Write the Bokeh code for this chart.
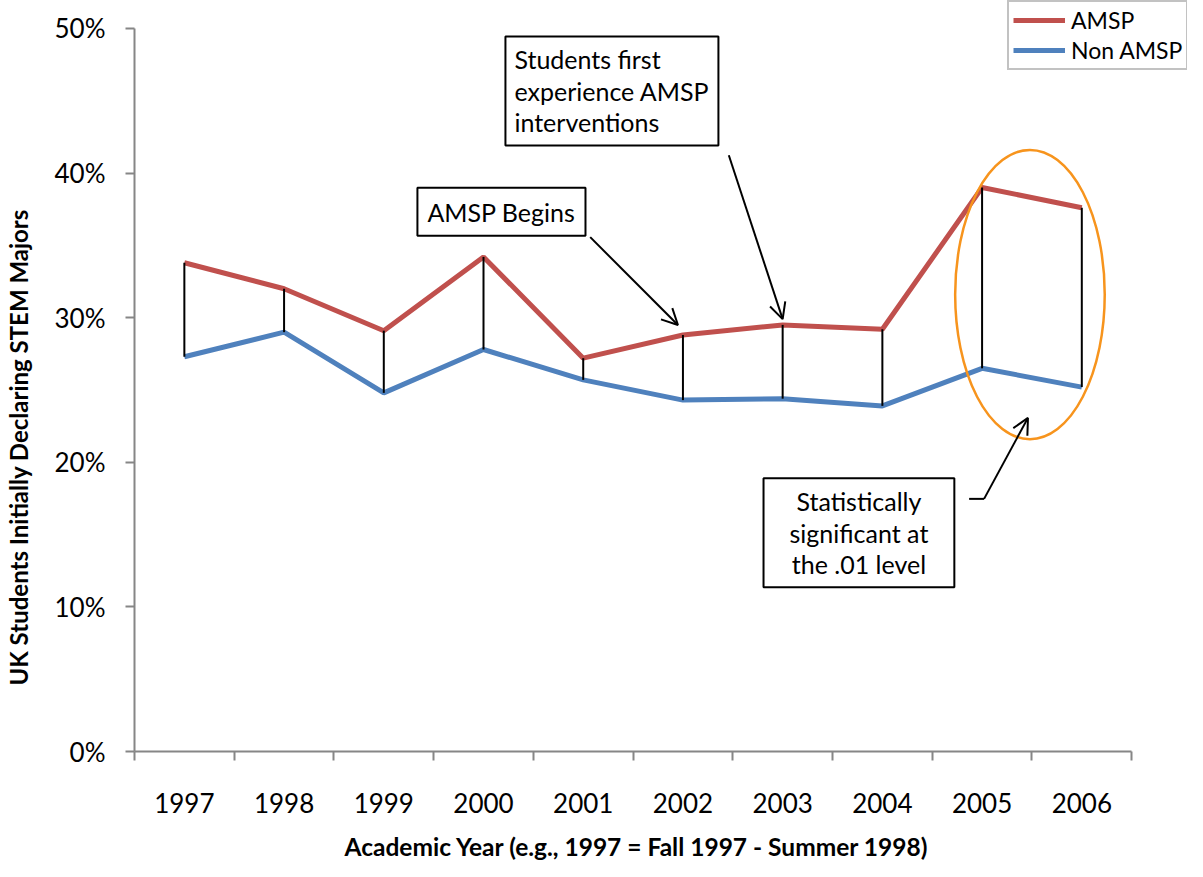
from bokeh.plotting import figure
from bokeh.models import (FixedTicker, Legend, LegendItem, Label, Arrow, OpenHead,
                          CustomJSTickFormatter, Range1d, Title)
from bokeh.embed import file_html
from bokeh.resources import INLINE

years = ["1997", "1998", "1999", "2000", "2001", "2002", "2003", "2004", "2005", "2006"]
amsp = [33.8, 32.0, 29.1, 34.2, 27.2, 28.8, 29.5, 29.2, 39.0, 37.6]
non_amsp = [27.3, 29.0, 24.8, 27.8, 25.7, 24.3, 24.4, 23.9, 26.5, 25.2]
y_ticks = [0, 10, 20, 30, 40, 50]

xs = list(range(1, len(years) + 1))
FONT = "Lato"
AX = "#868686"

W, H = 1187, 861
LEFT, BOTTOM = 131, 109
PX_X = 100.0
PX_Y = 14.48
x_end = 0.5 + (W - LEFT) / PX_X
y_end = (H - BOTTOM) / PX_Y

p = figure(width=W, height=H, output_backend="svg", toolbar_location=None,
           x_range=Range1d(0.5, x_end), y_range=Range1d(0, y_end),
           min_border_left=LEFT, min_border_right=0, min_border_top=0, min_border_bottom=BOTTOM)
p.outline_line_color = None
p.xgrid.visible = False
p.ygrid.visible = False

# x axis
p.xaxis.bounds = (0.5, 10.5)
p.xaxis.ticker = FixedTicker(ticks=xs, minor_ticks=[i + 0.5 for i in range(0, len(years) + 1)])
p.xaxis.major_label_overrides = {x: y for x, y in zip(xs, years)}
p.xaxis.major_tick_line_color = None
p.xaxis.major_tick_out = 0
p.xaxis.major_tick_in = 0
p.xaxis.minor_tick_line_color = AX
p.xaxis.minor_tick_line_width = 2
p.xaxis.minor_tick_out = 9
p.xaxis.minor_tick_in = 0
p.xaxis.axis_line_color = AX
p.xaxis.axis_line_width = 2
p.xaxis.major_label_standoff = 32
p.xaxis.major_label_text_font = FONT
p.xaxis.major_label_text_font_size = "26px"
p.xaxis.major_label_text_color = "black"
p.xaxis.axis_label = "\u00a0"
p.xaxis.axis_label_text_font_size = "10px"
p.xaxis.axis_label_standoff = 0

# y axis
p.yaxis.bounds = (0, 50)
p.yaxis.ticker = FixedTicker(ticks=y_ticks, minor_ticks=[])
p.yaxis.formatter = CustomJSTickFormatter(code="return tick.toFixed(0) + '%';")
p.yaxis.axis_line_color = AX
p.yaxis.axis_line_width = 2
p.yaxis.major_tick_line_color = AX
p.yaxis.major_tick_line_width = 2
p.yaxis.major_tick_out = 9
p.yaxis.major_tick_in = 0
p.yaxis.major_label_standoff = 20
p.yaxis.major_label_text_font = FONT
p.yaxis.major_label_text_font_size = "26px"
p.yaxis.major_label_text_color = "black"
p.yaxis.axis_label = "\u00a0"
p.yaxis.axis_label_text_font_size = "13px"
p.yaxis.axis_label_standoff = 0

# axis titles (side titles, positioned along the axis span)
xt = Title(text="Academic Year (e.g., 1997 = Fall 1997 - Summer 1998)", align="left",
           offset=210, text_font=FONT, text_font_size="24.5px", text_font_style="bold",
           text_color="black", standoff=1)
p.add_layout(xt, "below")
yt = Title(text="UK Students Initially Declaring STEM Majors", align="left",
           offset=66, text_font=FONT, text_font_size="24px", text_font_style="bold",
           text_color="black", standoff=2)
p.add_layout(yt, "left")

# series
r_a = p.line(xs, amsp, line_color="#C0504D", line_width=5)
r_n = p.line(xs, non_amsp, line_color="#4F81BD", line_width=5)
p.segment(x0=xs, y0=amsp, x1=xs, y1=non_amsp, line_color="black", line_width=2)

# highlight ellipse
p.ellipse(x=[9.48], y=[31.6], width=[1.5], height=[20.0], fill_color=None,
          line_color="#F7941D", line_width=2.5)

# annotations
def box(x, y, text, align, ph, pv):
    lab = Label(x=x, y=y, text=text, text_font=FONT, text_font_size="25px",
                text_color="black",
                text_align=align, text_baseline="middle", text_line_height=1.05,
                border_line_color="black", border_line_width=2,
                background_fill_color="white",
                padding=dict(left=ph, right=ph, top=pv, bottom=pv))
    p.add_layout(lab)

box(4.18, 37.33, "AMSP Begins", "center", 10, 9)
box(4.22, 45.68, "Students first\nexperience AMSP\ninterventions", "left", 9, 8)
box(7.765, 15.12, "Statistically\nsignificant at\nthe .01 level", "center", 26, 8)

def arrow(x0, y0, x1, y1):
    p.add_layout(Arrow(x_start=x0, y_start=y0, x_end=x1, y_end=y1, line_width=2,
                       line_color="black",
                       end=OpenHead(size=16, line_width=2, line_color="black")))

arrow(5.07, 35.57, 5.95, 29.49)
arrow(6.46, 41.23, 7.0, 29.9)
p.segment(x0=[8.87], y0=[17.47], x1=[9.02], y1=[17.47], line_color="black", line_width=2)
arrow(9.02, 17.47, 9.46, 23.07)

legend = Legend(items=[LegendItem(label="AMSP", renderers=[r_a]),
                       LegendItem(label="Non AMSP", renderers=[r_n])],
                location=(873, 681), label_text_font=FONT, label_text_font_size="23px",
                label_text_color="black",
                glyph_width=52, glyph_height=26, label_height=26, padding=4, spacing=2,
                margin=0, border_line_color=AX, border_line_width=2,
                label_standoff=6)
p.add_layout(legend)

open("out.html", "w").write(file_html(p, INLINE))
